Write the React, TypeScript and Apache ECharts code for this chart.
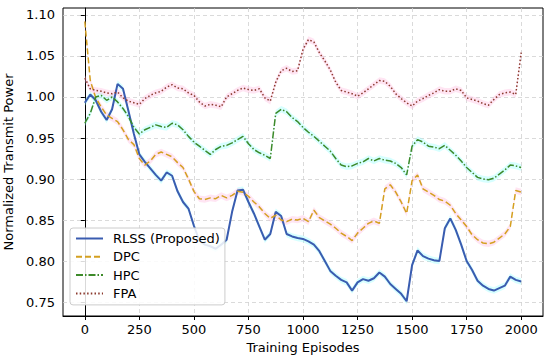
import React, { useEffect, useRef } from "react";
import * as echarts from "echarts";

const episodes = [
  0, 25, 50, 75, 100, 125, 150, 175, 200, 225,
  250, 275, 300, 325, 350, 375, 400, 425, 450, 475,
  500, 525, 550, 575, 600, 625, 650, 675, 700, 725,
  750, 775, 800, 825, 850, 875, 900, 925, 950, 975,
  1000, 1025, 1050, 1075, 1100, 1125, 1150, 1175, 1200, 1225,
  1250, 1275, 1300, 1325, 1350, 1375, 1400, 1425, 1450, 1475,
  1500, 1525, 1550, 1575, 1600, 1625, 1650, 1675, 1700, 1725,
  1750, 1775, 1800, 1825, 1850, 1875, 1900, 1925, 1950, 1975,
  2000,
];

const rlss = [
  0.993, 1.003, 0.996, 0.982, 0.972, 0.985, 1.016, 1.010, 0.983, 0.955,
  0.930, 0.921, 0.913, 0.905, 0.898, 0.908, 0.904, 0.885, 0.872, 0.864,
  0.843, 0.825, 0.820, 0.818, 0.815, 0.820, 0.826, 0.860, 0.886, 0.887,
  0.872, 0.858, 0.842, 0.826, 0.833, 0.860, 0.855, 0.833, 0.830, 0.828,
  0.827, 0.824, 0.820, 0.812, 0.800, 0.788, 0.782, 0.777, 0.774, 0.764,
  0.774, 0.778, 0.776, 0.779, 0.786, 0.781, 0.772, 0.766, 0.760, 0.751,
  0.795, 0.813, 0.806, 0.803, 0.801, 0.800, 0.840, 0.852, 0.838, 0.820,
  0.800, 0.789, 0.776, 0.770, 0.766, 0.764, 0.767, 0.770, 0.781, 0.777,
  0.775,
];

const dpc = [
  1.092, 1.020, 0.999, 0.988, 0.978, 0.974, 0.970, 0.960, 0.948, 0.942,
  0.925, 0.917, 0.922, 0.930, 0.933, 0.930, 0.927, 0.920, 0.914, 0.900,
  0.885, 0.876, 0.875, 0.877, 0.876, 0.880, 0.877, 0.880, 0.885, 0.884,
  0.879, 0.872, 0.866, 0.858, 0.852, 0.856, 0.850, 0.848, 0.851, 0.850,
  0.852, 0.848, 0.862, 0.853, 0.849, 0.845, 0.840, 0.834, 0.830, 0.825,
  0.834, 0.840, 0.846, 0.849, 0.846, 0.888, 0.893, 0.884, 0.872, 0.858,
  0.898, 0.905, 0.888, 0.884, 0.880, 0.875, 0.873, 0.868, 0.858, 0.850,
  0.842, 0.832, 0.826, 0.822, 0.821, 0.823, 0.828, 0.833, 0.842, 0.886,
  0.884,
];

const hpc = [
  0.968, 0.980, 1.000, 1.002, 0.996, 1.000, 0.994, 0.986, 0.976, 0.963,
  0.955, 0.960, 0.963, 0.966, 0.964, 0.963, 0.968, 0.966, 0.960, 0.952,
  0.945, 0.940, 0.935, 0.930, 0.936, 0.940, 0.941, 0.944, 0.948, 0.952,
  0.943, 0.936, 0.932, 0.929, 0.925, 0.980, 0.985, 0.982, 0.975, 0.970,
  0.963, 0.957, 0.952, 0.946, 0.940, 0.934, 0.925, 0.917, 0.915, 0.916,
  0.919, 0.921, 0.925, 0.922, 0.925, 0.923, 0.922, 0.919, 0.914, 0.905,
  0.940, 0.948, 0.945, 0.940, 0.939, 0.937, 0.941, 0.935, 0.929, 0.922,
  0.914, 0.908, 0.902, 0.900, 0.899, 0.901, 0.906, 0.911, 0.917, 0.916,
  0.914,
];

const fpa = [
  1.023, 1.010, 1.008, 1.007, 1.005, 1.004, 1.006, 0.999, 0.995, 0.993,
  0.991, 0.998, 1.002, 1.005, 1.007, 1.012, 1.015, 1.011, 1.010, 1.005,
  1.002, 0.994, 0.989, 0.991, 0.990, 0.988, 1.000, 1.004, 1.008, 1.011,
  1.009, 1.008, 1.010, 0.999, 0.995, 1.018, 1.032, 1.035, 1.031, 1.032,
  1.058, 1.070, 1.067, 1.054, 1.044, 1.033, 1.018, 1.008, 1.006, 1.004,
  1.001, 1.005, 1.010, 1.015, 1.020, 1.019, 1.013, 1.004, 0.998, 0.993,
  0.989, 0.995, 0.998, 1.002, 1.005, 1.009, 1.007, 1.007, 1.010, 1.008,
  0.999, 0.997, 0.995, 0.992, 0.990, 0.997, 1.003, 1.005, 1.006, 1.003,
  1.054,
];

const xTicks = [0, 250, 500, 750, 1000, 1250, 1500, 1750, 2000];
const yTicks = [0.75, 0.8, 0.85, 0.9, 0.95, 1.0, 1.05, 1.1];

const seriesNames = ["RLSS (Proposed)", "DPC", "HPC", "FPA"];

export default function App() {
  const ref = useRef<HTMLDivElement>(null);

  useEffect(() => {
    document.body.style.margin = "0";
    const chart = echarts.init(ref.current!, null, { renderer: "svg" });
    const font = "DejaVu Sans";
    const fs = 13;
    const bandW = 0.004;

    const pts = (arr: number[]) => arr.map((v, i) => [episodes[i], v]);

    const band = (arr: number[], color: string) => ({
      type: "custom",
      data: [[0]],
      silent: true,
      z: 1,
      renderItem: (params: any, api: any) => {
        const upper = arr.map((v, i) => api.coord([episodes[i], v + bandW]));
        const lower = arr
          .map((v, i) => api.coord([episodes[i], v - bandW]))
          .reverse();
        return {
          type: "polygon",
          shape: { points: upper.concat(lower) },
          style: { fill: color, stroke: "none" },
        };
      },
    });

    const mainLine = (
      name: string,
      arr: number[],
      color: string,
      width: number,
      type: any
    ) => ({
      type: "line",
      name,
      data: pts(arr),
      symbol: "none",
      lineStyle: { color, width, type },
      itemStyle: { color },
      z: 3,
    });

    chart.setOption({
      animation: false,
      textStyle: { fontFamily: font },
      grid: {
        left: 63,
        right: 7,
        top: 8,
        bottom: 44,
        containLabel: false,
        outerBoundsMode: "none",
        show: true,
        borderColor: "#000",
        borderWidth: 1,
        backgroundColor: "transparent",
      },
      legend: {
        data: seriesNames,
        orient: "vertical",
        left: 70,
        top: 228,
        padding: [4, 5, 5, 5],
        itemWidth: 27,
        itemHeight: 14,
        itemGap: 5.3,
        itemStyle: { opacity: 0 },
        backgroundColor: "rgba(255,255,255,0.85)",
        borderColor: "#cccccc",
        borderWidth: 1,
        borderRadius: 3,
        textStyle: {
          fontFamily: font,
          fontSize: fs,
          color: "#000",
          padding: [0, 0, 0, 5],
        },
      },
      xAxis: {
        type: "value",
        min: -100,
        max: 2100,
        name: "Training Episodes",
        nameLocation: "middle",
        nameGap: 21,
        nameTextStyle: { fontFamily: font, fontSize: fs, color: "#000" },
        axisLine: { show: true, lineStyle: { color: "#000", width: 1 } },
        axisTick: {
          show: true,
          length: 4,
          customValues: xTicks,
          lineStyle: { color: "#000" },
        },
        axisLabel: {
          customValues: xTicks,
          fontFamily: font,
          fontSize: fs,
          color: "#000",
          margin: 7,
          formatter: (v: number) => String(v),
        },
        splitLine: {
          show: true,
          lineStyle: { color: "#d0d0d0", type: [4, 3], width: 0.8 },
        },
      },
      yAxis: {
        type: "value",
        min: 0.733,
        max: 1.1085,
        name: "Normalized Transmit Power",
        nameLocation: "middle",
        nameGap: 39,
        nameTextStyle: { fontFamily: font, fontSize: fs, color: "#000" },
        axisLine: { show: true, lineStyle: { color: "#000", width: 1 } },
        axisTick: {
          show: true,
          length: 4,
          customValues: yTicks,
          lineStyle: { color: "#000" },
        },
        axisLabel: {
          customValues: yTicks,
          fontFamily: font,
          fontSize: fs,
          color: "#000",
          margin: 8,
          formatter: (v: number) => v.toFixed(2),
        },
        splitLine: {
          show: true,
          lineStyle: { color: "#d0d0d0", type: [4, 3], width: 0.8 },
        },
      },
      series: [
        band(rlss, "rgba(140,255,255,0.35)"),
        band(dpc, "rgba(255,180,220,0.35)"),
        band(hpc, "rgba(140,255,255,0.35)"),
        band(fpa, "rgba(255,180,220,0.35)"),
        mainLine(seriesNames[0], rlss, "#3a5cb0", 2, "solid"),
        mainLine(seriesNames[1], dpc, "#d4a020", 1.5, [6, 3]),
        mainLine(seriesNames[2], hpc, "#3d8a2a", 1.5, [7, 2, 1.5, 2]),
        mainLine(seriesNames[3], fpa, "#8b3a2e", 1.5, [1.5, 2.2]),
      ],
    });

    return () => chart.dispose();
  }, []);

  return <div ref={ref} style={{ width: 550, height: 360 }} />;
}
